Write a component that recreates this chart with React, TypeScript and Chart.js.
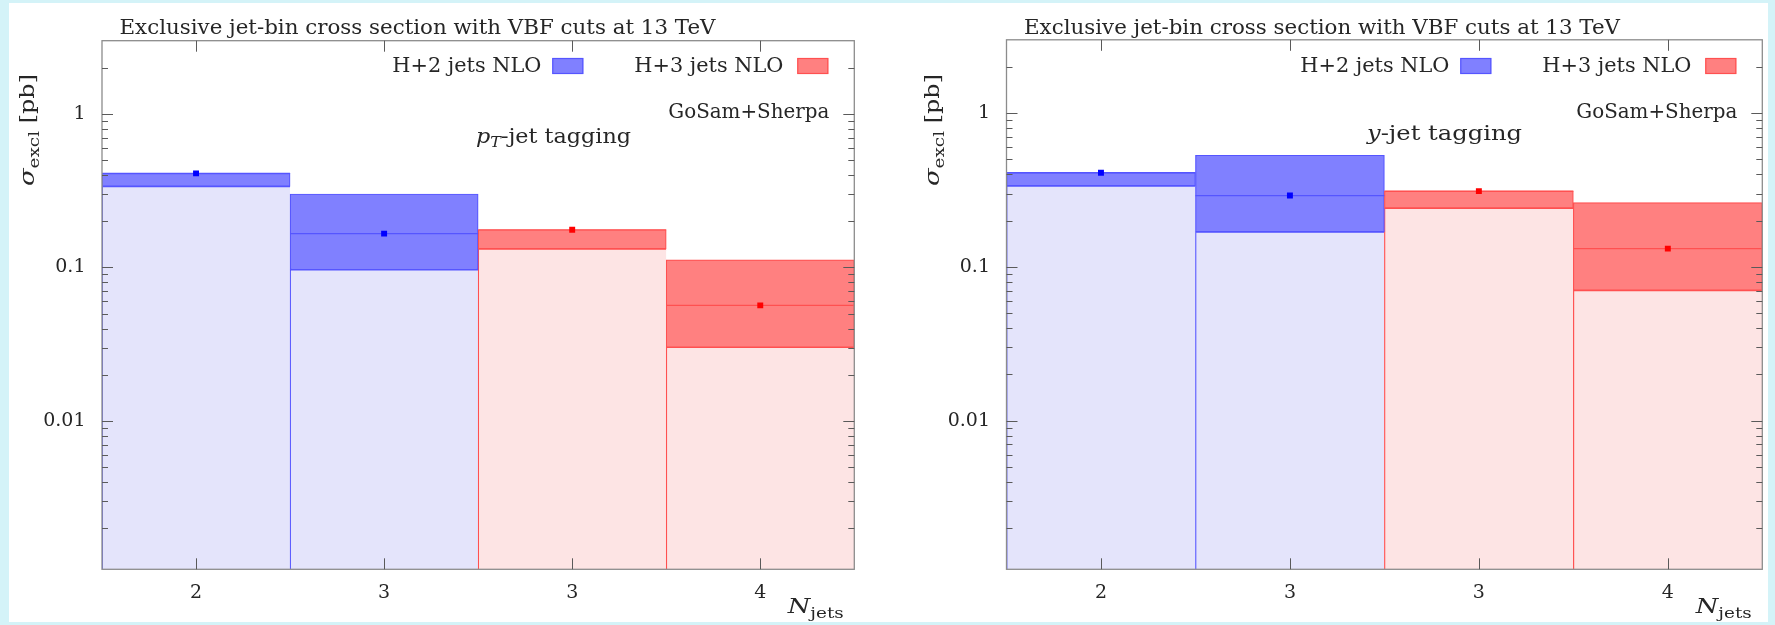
import { useEffect, useRef } from 'react';
import { Chart, registerables } from 'chart.js';

Chart.register(...registerables);

// ---- data -----------------------------------------------------------------
const NJETS_LABELS = ['2', '3', '3', '4'];
// which sample each jet bin belongs to: 0 = H+2 jets NLO, 1 = H+3 jets NLO
const BIN_SAMPLE = [0, 0, 1, 1];
const SAMPLE_NAMES = ['H+2 jets NLO', 'H+3 jets NLO'];

// pT-jet tagging: central value and scale-variation band [pb]
const PT_CENTRAL = [0.41, 0.166, 0.176, 0.0566];
const PT_LOW = [0.337, 0.0966, 0.132, 0.0302];
const PT_HIGH = [0.41, 0.301, 0.176, 0.112];

// y-jet tagging
const Y_CENTRAL = [0.41, 0.291, 0.311, 0.1315];
const Y_LOW = [0.337, 0.169, 0.241, 0.0704];
const Y_HIGH = [0.41, 0.532, 0.311, 0.262];

const Y_MAJOR_VALUES = [0.01, 0.1, 1];
const Y_MAJOR_LABELS = ['0.01', '0.1', '1'];
const Y_MIN = 0.00108;
const Y_MAX = 3;

const TITLE = 'Exclusive jet-bin cross section with VBF cuts at 13 TeV';
const GENERATOR = 'GoSam+Sherpa';

// ---- style ----------------------------------------------------------------
const FONT = '"DejaVu Serif", serif';
const TEXT_COLOR = '#262626';
const SAMPLE_STYLE = [
  { band: '#8080ff', light: '#e4e4fb', line: '#5555ff', marker: '#0000ff' },
  { band: '#ff8080', light: '#fde4e4', line: '#ff5050', marker: '#ff0000' },
];

type Seg = { t: string; size: number; italic?: boolean; dy?: number };

const segFont = (s: Seg) => `${s.italic ? 'italic ' : ''}${s.size}px ${FONT}`;

// draws a run of text pieces; when fitW is given the run is stretched horizontally to that width
function drawSegs(
  ctx: CanvasRenderingContext2D,
  segs: Seg[],
  x: number,
  y: number,
  align: 'left' | 'center' | 'right',
  fitW?: number
) {
  const widths = segs.map((s) => {
    ctx.font = segFont(s);
    return ctx.measureText(s.t).width;
  });
  const total = widths.reduce((a, b) => a + b, 0);
  const sx = fitW ? fitW / total : 1;
  const shown = total * sx;
  const start = align === 'left' ? x : align === 'center' ? x - shown / 2 : x - shown;
  ctx.save();
  ctx.translate(start, y);
  ctx.scale(sx, 1);
  ctx.textAlign = 'left';
  ctx.textBaseline = 'alphabetic';
  let cx = 0;
  segs.forEach((s, i) => {
    ctx.font = segFont(s);
    ctx.fillText(s.t, cx, s.dy || 0);
    cx += widths[i];
  });
  ctx.restore();
}

type PanelSpec = {
  left: number;
  width: number;
  height: number;
  area: { left: number; right: number; top: number; bottom: number };
  central: number[];
  low: number[];
  high: number[];
  tagging: Seg[];
  tagX: number;
  tagY: number;
};

const TXT = 19.5;

const PANELS: PanelSpec[] = [
  {
    left: 0,
    width: 887,
    height: 625,
    area: { left: 102, right: 854.3, top: 40.7, bottom: 569.3 },
    central: PT_CENTRAL,
    low: PT_LOW,
    high: PT_HIGH,
    tagging: [
      { t: 'p', size: TXT, italic: true },
      { t: 'T', size: 14, italic: true, dy: 4 },
      { t: '-jet tagging', size: TXT },
    ],
    tagX: 553.5,
    tagY: 143,
  },
  {
    left: 887,
    width: 888,
    height: 625,
    area: { left: 119.5, right: 875.3, top: 39.8, bottom: 569.3 },
    central: Y_CENTRAL,
    low: Y_LOW,
    high: Y_HIGH,
    tagging: [
      { t: 'y', size: TXT, italic: true },
      { t: '-jet tagging', size: TXT },
    ],
    tagX: 557.5,
    tagY: 140,
  },
];

function buildDatasets(p: PanelSpec) {
  const ds: any[] = [];
  [0, 1].forEach((s) => {
    const st = SAMPLE_STYLE[s];
    const bins = BIN_SAMPLE.map((b, i) => (b === s ? i : -1)).filter((i) => i >= 0);
    const shift = s === 0 ? 0.5 : 0; // H+3 drawn over H+2
    ds.push({
      type: 'bar',
      label: SAMPLE_NAMES[s] + ' below band',
      data: bins.map((i) => ({ x: i + 0.5, y: p.low[i] })),
      backgroundColor: st.light,
      borderColor: st.line,
      borderWidth: { left: 1.2, top: 1.2, right: 0, bottom: 0 },
      borderSkipped: false,
      grouped: false,
      barPercentage: 1,
      categoryPercentage: 1,
      order: 30 + shift,
    });
    ds.push({
      type: 'bar',
      label: SAMPLE_NAMES[s],
      data: bins.map((i) => ({ x: i + 0.5, y: [p.low[i], p.high[i]] })),
      backgroundColor: st.band,
      borderColor: st.line,
      borderWidth: 1.2,
      borderSkipped: false,
      grouped: false,
      barPercentage: 1,
      categoryPercentage: 1,
      order: 20 + shift,
    });
    ds.push({
      type: 'line',
      label: SAMPLE_NAMES[s] + ' central',
      data: bins.flatMap((i) => [
        { x: i, y: p.central[i] },
        { x: i + 1, y: p.central[i] },
        { x: i + 1, y: null },
      ]),
      borderColor: st.line,
      borderWidth: 1.2,
      pointRadius: 0,
      spanGaps: false,
      order: 10 + shift,
    });
    ds.push({
      type: 'line',
      label: SAMPLE_NAMES[s] + ' points',
      showLine: false,
      data: bins.map((i) => ({ x: i + 0.5, y: p.central[i] })),
      pointStyle: 'rect',
      pointRadius: 4.2,
      backgroundColor: st.marker,
      borderColor: st.marker,
      borderWidth: 0,
      order: shift,
    });
  });
  return ds;
}

const decorPlugin = {
  id: 'panelDecor',
  afterDatasetsDraw(chart: any, _args: any, opts: any) {
    const p: PanelSpec = opts.panel;
    const ctx: CanvasRenderingContext2D = chart.ctx;
    const a = chart.chartArea;
    const xs = chart.scales.x;
    const ys = chart.scales.y;
    const line = (x1: number, y1: number, x2: number, y2: number) => {
      ctx.beginPath();
      ctx.moveTo(x1, y1);
      ctx.lineTo(x2, y2);
      ctx.stroke();
    };
    ctx.save();
    // frame
    ctx.strokeStyle = '#8c8c8c';
    ctx.lineWidth = 1.3;
    ctx.strokeRect(a.left, a.top, a.right - a.left, a.bottom - a.top);
    // inward ticks, mirrored on both sides
    ctx.strokeStyle = '#5a5a5a';
    ctx.lineWidth = 1;
    ys.ticks.forEach((t: any) => {
      const py = Math.round(ys.getPixelForValue(t.value)) + 0.5;
      if (py < a.top + 2 || py > a.bottom - 2) return;
      const len = t.isMajorDecade ? 11 : 6;
      line(a.left, py, a.left + len, py);
      line(a.right, py, a.right - len, py);
    });
    xs.ticks.forEach((t: any) => {
      const px = Math.round(xs.getPixelForValue(t.value)) + 0.5;
      line(px, a.bottom, px, a.bottom - 11);
      line(px, a.top, px, a.top + 11);
    });

    ctx.fillStyle = TEXT_COLOR;
    // title
    drawSegs(ctx, [{ t: TITLE, size: TXT }], a.left + 17.5, 34, 'left', 596);
    // legend
    const legendText = [a.right - 313, a.right - 71];
    const swatchX = [a.right - 302, a.right - 57];
    [0, 1].forEach((s) => {
      drawSegs(ctx, [{ t: SAMPLE_NAMES[s], size: TXT }], legendText[s], 71.5, 'right', 149);
      ctx.fillStyle = SAMPLE_STYLE[s].band;
      ctx.fillRect(swatchX[s], 58, 31, 16);
      ctx.strokeStyle = SAMPLE_STYLE[s].line;
      ctx.lineWidth = 1.2;
      ctx.strokeRect(swatchX[s] + 0.5, 58.5, 30, 15);
      ctx.fillStyle = TEXT_COLOR;
    });
    // generator and tagging labels
    drawSegs(ctx, [{ t: GENERATOR, size: TXT }], a.right - 25, 117.5, 'right', 161);
    drawSegs(ctx, p.tagging, p.tagX, p.tagY, 'center', 155);
    // axis titles
    drawSegs(
      ctx,
      [
        { t: 'N', size: 21, italic: true },
        { t: 'jets', size: 15, dy: 5 },
      ],
      a.right - 66.5,
      613,
      'left',
      56
    );
    ctx.save();
    ctx.translate(a.left - 75, 130);
    ctx.rotate(-Math.PI / 2);
    drawSegs(
      ctx,
      [
        { t: 'σ', size: 21, italic: true },
        { t: 'excl', size: 15, dy: 5 },
        { t: ' [pb]', size: TXT },
      ],
      0,
      7,
      'center',
      112
    );
    ctx.restore();
    ctx.restore();
  },
};

function Panel({ spec }: { spec: PanelSpec }) {
  const ref = useRef<HTMLCanvasElement | null>(null);
  useEffect(() => {
    if (!ref.current) return;
    const a = spec.area;
    const chart = new Chart(ref.current, {
      type: 'bar',
      data: { datasets: buildDatasets(spec) },
      options: {
        animation: false,
        responsive: false,
        devicePixelRatio: 1,
        layout: {
          autoPadding: false,
          padding: { left: 0, bottom: 0, top: a.top, right: spec.width - a.right },
        },
        plugins: {
          legend: { display: false },
          tooltip: { enabled: false },
          panelDecor: { panel: spec },
        } as any,
        scales: {
          x: {
            type: 'linear',
            offset: false,
            min: 0,
            max: NJETS_LABELS.length,
            grid: { display: false, drawTicks: false, offset: false },
            border: { display: false },
            afterBuildTicks: (scale: any) => {
              scale.ticks = NJETS_LABELS.map((_, i) => ({ value: i + 0.5 }));
            },
            afterFit: (scale: any) => {
              scale.height = spec.height - a.bottom;
            },
            ticks: {
              autoSkip: false,
              maxRotation: 0,
              padding: 12.5,
              color: TEXT_COLOR,
              font: { family: FONT, size: 19 },
              callback: (_v: any, i: number) => NJETS_LABELS[i],
            },
          },
          y: {
            type: 'logarithmic',
            min: Y_MIN,
            max: Y_MAX,
            grid: { display: false, drawTicks: false },
            border: { display: false },
            afterBuildTicks: (scale: any) => {
              const ticks: any[] = [];
              for (let e = Math.floor(Math.log10(Y_MIN)); e <= Math.ceil(Math.log10(Y_MAX)); e++) {
                for (let m = 1; m <= 9; m++) {
                  const v = m * Math.pow(10, e);
                  if (v >= Y_MIN && v <= Y_MAX) ticks.push({ value: v, isMajorDecade: m === 1 });
                }
              }
              scale.ticks = ticks;
            },
            afterFit: (scale: any) => {
              scale.width = a.left;
            },
            ticks: {
              autoSkip: false,
              padding: 16.5,
              color: TEXT_COLOR,
              font: { family: FONT, size: 19 },
              callback: (value: any) => {
                const k = Y_MAJOR_VALUES.findIndex((v) => Math.abs(v - value) / v < 1e-9);
                return k >= 0 ? Y_MAJOR_LABELS[k] : '';
              },
            },
          },
        },
      },
      plugins: [decorPlugin],
    } as any);
    return () => chart.destroy();
  }, [spec]);
  return (
    <canvas
      ref={ref}
      width={spec.width}
      height={spec.height}
      style={{ position: 'absolute', left: spec.left, top: 0, width: spec.width, height: spec.height }}
    />
  );
}

export default function App() {
  return (
    <div style={{ position: 'fixed', left: 0, top: 0, width: 1775, height: 625, background: '#d4f3f8', overflow: 'hidden' }}>
      <div style={{ position: 'absolute', left: 9, top: 3, width: 1759, height: 619, background: '#ffffff' }} />
      {PANELS.map((p, i) => (
        <Panel key={i} spec={p} />
      ))}
    </div>
  );
}
